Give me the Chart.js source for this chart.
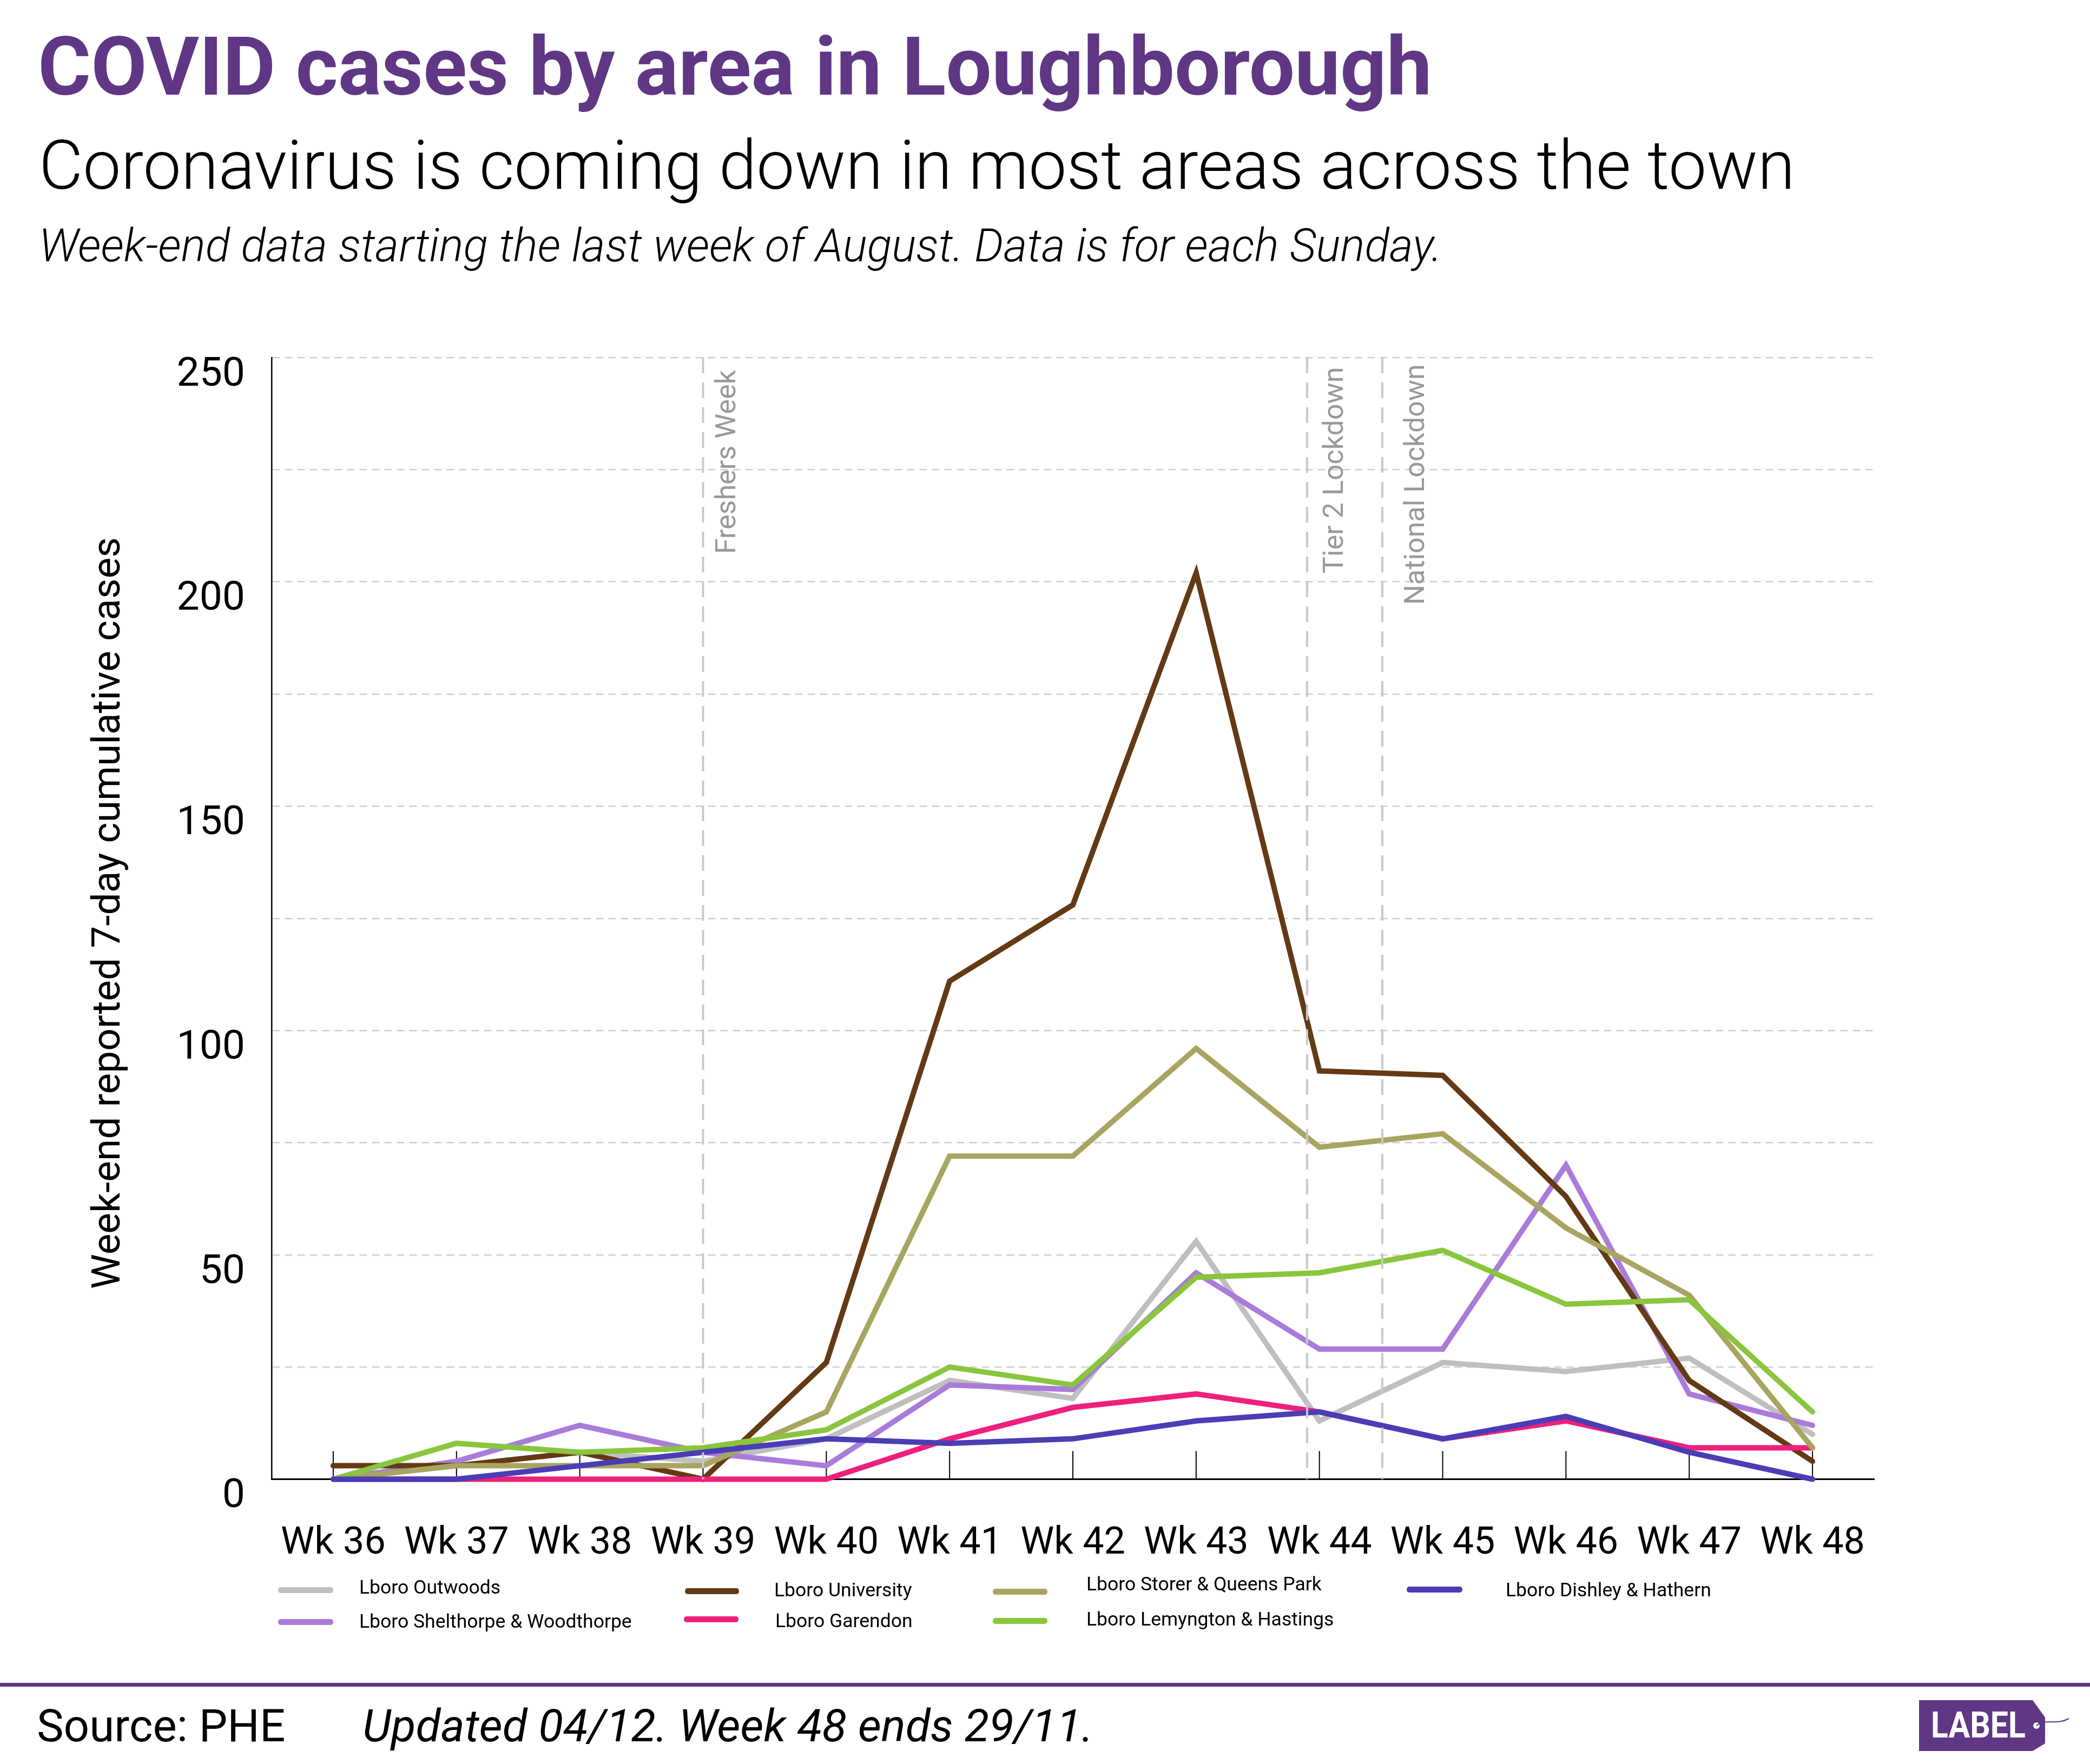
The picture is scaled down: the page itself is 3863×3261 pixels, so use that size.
<!DOCTYPE html>
<html>
<head>
<meta charset="utf-8">
<title>COVID cases by area in Loughborough</title>
<script src="https://cdn.jsdelivr.net/npm/chart.js@4"></script>
<style>
  html, body { margin: 0; padding: 0; background: #fff; }
  body { position: relative; width: 3863px; height: 3261px; overflow: hidden; font-family: Roboto, sans-serif; color: #000; }
  canvas { position: absolute; left: 0; top: 0; }
  .txt { position: absolute; white-space: nowrap; line-height: 1; }
  #title { left: 70px; top: 49px; font-size: 150px; font-weight: 700; color: #5f3785; }
  #subtitle { left: 72px; top: 244px; font-size: 125.3px; font-weight: 300; }
  #note { left: 72px; top: 413px; font-size: 84.4px; font-weight: 300; font-style: italic; }
  #rule { position: absolute; left: 0; top: 3111px; width: 3863px; height: 7px; background: #5f3785; }
  #source { left: 68px; top: 3149px; font-size: 83.5px; }
  #updated { left: 670px; top: 3149px; font-size: 84px; font-style: italic; }
  .swatch { position: absolute; height: 11px; border-radius: 5px; }
  .leg { font-size: 35.5px; }
  #logo { position: absolute; left: 3540px; top: 3135px; }
</style>
</head>
<body>
<div class="txt" id="title">COVID cases by area in Loughborough</div>
<div class="txt" id="subtitle">Coronavirus is coming down in most areas across the town</div>
<div class="txt" id="note">Week-end data starting the last week of August. Data is for each Sunday.</div>
<canvas id="chart" width="3863" height="3261"></canvas>
<div id="legend"></div>
<div id="rule"></div>
<div class="txt" id="source">Source: PHE</div>
<div class="txt" id="updated">Updated 04/12. Week 48 ends 29/11.</div>
<svg id="logo" width="300" height="110" viewBox="3540 3135 300 110">
  <path d="M3547 3143 H3757 L3780 3175 V3223 L3757 3237 H3547 Z" fill="#5f3785"/>
  <circle cx="3764" cy="3190" r="6" fill="#fff"/>
  <path d="M3764 3190 C3785 3176 3800 3190 3824 3177" fill="none" stroke="#5f3785" stroke-width="2"/>
  <text x="3569" y="3212" font-family="Roboto" font-weight="700" font-size="67" fill="#fff" textLength="175" lengthAdjust="spacingAndGlyphs">LABEL</text>
</svg>
<script>
// 주 단위 라벨과 지역별 값
const weeks = ['Wk 36', 'Wk 37', 'Wk 38', 'Wk 39', 'Wk 40', 'Wk 41', 'Wk 42', 'Wk 43', 'Wk 44', 'Wk 45', 'Wk 46', 'Wk 47', 'Wk 48'];
const outwoods   = [0, 3, 6, 4, 9, 22, 18, 53, 13, 26, 24, 27, 10];
const shelthorpe = [0, 4, 12, 6, 3, 21, 20, 46, 29, 29, 70, 19, 12];
const university = [3, 3, 6, 0, 26, 111, 128, 202, 91, 90, 63, 22, 4];
const garendon   = [0, 0, 0, 0, 0, 9, 16, 19, 15, 9, 13, 7, 7];
const storer     = [0, 3, 3, 3, 15, 72, 72, 96, 74, 77, 56, 41, 7];
const lemyngton  = [0, 8, 6, 7, 11, 25, 21, 45, 46, 51, 39, 40, 15];
const dishley    = [0, 0, 3, 6, 9, 8, 9, 13, 15, 9, 14, 6, 0];

// 세로 이벤트 표시 (x는 주 인덱스 기준)
const eventNames = ['Freshers Week', 'Tier 2 Lockdown', 'National Lockdown'];
const eventWeeks = [3, 7.9, 8.51];
const eventTextGap = [60, 66, 77];
const eventTextEnd = [1024, 1060, 1118];

const yAxisTitle = 'Week-end reported 7-day cumulative cases';

const series = [
  { label: 'Lboro Outwoods', data: outwoods, color: '#bfbfbf' },
  { label: 'Lboro Shelthorpe & Woodthorpe', data: shelthorpe, color: '#a97cd9' },
  { label: 'Lboro University', data: university, color: '#633a13' },
  { label: 'Lboro Garendon', data: garendon, color: '#ee207c' },
  { label: 'Lboro Storer & Queens Park', data: storer, color: '#a8a560' },
  { label: 'Lboro Lemyngton & Hastings', data: lemyngton, color: '#8ac53e' },
  { label: 'Lboro Dishley & Hathern', data: dishley, color: '#4a3db5' }
];

// 범례 배치: 원본의 불규칙한 위치 그대로
const legendSpots = [
  { sx: 514, sw: 102, sy: 2939, tx: 664, ty: 2935 },
  { sx: 514, sw: 102, sy: 2998, tx: 664, ty: 2998 },
  { sx: 1266, sw: 100, sy: 2941, tx: 1431, ty: 2940 },
  { sx: 1264, sw: 101, sy: 2993, tx: 1433, ty: 2997 },
  { sx: 1835, sw: 101, sy: 2942, tx: 2008, ty: 2929 },
  { sx: 1835, sw: 101, sy: 2996, tx: 2008, ty: 2994 },
  { sx: 2600, sw: 103, sy: 2938, tx: 2783, ty: 2940 }
];

function renderLegend(container) {
  container.innerHTML = series.map((s, i) => {
    const p = legendSpots[i];
    return `<div class="swatch" style="left:${p.sx}px; top:${p.sy - 5}px; width:${p.sw}px; background:${s.color};"></div>
      <div class="txt leg" style="left:${p.tx}px; top:${p.ty - 18}px;">${s.label.replace('&', '&amp;')}</div>`;
  }).join('');
}
renderLegend(document.getElementById('legend'));

function drawRotated(ctx, text, x, y, font, color) {
  ctx.save();
  ctx.translate(x, y);
  ctx.rotate(-Math.PI / 2);
  ctx.fillStyle = color;
  ctx.font = font;
  ctx.textBaseline = 'alphabetic';
  ctx.fillText(text, 0, 0);
  ctx.restore();
}

// 축 위쪽 눈금과 이벤트 점선 + 세로 글자
const overlayPlugin = {
  id: 'overlay',
  beforeDatasetsDraw(chart) {
    const { ctx, scales: { x, y } } = chart;
    ctx.save();
    ctx.strokeStyle = '#000';
    ctx.lineWidth = 2;
    weeks.forEach((w, i) => {
      const px = x.getPixelForValue(i);
      ctx.beginPath();
      ctx.moveTo(px, y.bottom);
      ctx.lineTo(px, y.bottom - 52);
      ctx.stroke();
    });
    ctx.restore();
    ctx.save();
    ctx.textAlign = 'center';
    drawRotated(ctx, yAxisTitle, 221, 1688, '73px Roboto', '#000');
    ctx.restore();
  },
  afterDatasetsDraw(chart) {
    const { ctx, scales: { x, y } } = chart;
    ctx.save();
    eventWeeks.forEach((w, i) => {
      const px = x.getPixelForValue(w);
      ctx.strokeStyle = '#c9c9c9';
      ctx.lineWidth = 4;
      ctx.setLineDash([29, 17]);
      ctx.beginPath();
      ctx.moveTo(px, y.top);
      ctx.lineTo(px, y.bottom);
      ctx.stroke();
      drawRotated(ctx, eventNames[i], px + eventTextGap[i], eventTextEnd[i], '400 52px Roboto', '#999999');
    });
    ctx.restore();
  }
};

new Chart(document.getElementById('chart'), {
  type: 'line',
  data: {
    labels: weeks,
    datasets: series.map((s, i) => ({
      label: s.label,
      data: s.data,
      borderColor: s.color,
      backgroundColor: s.color,
      borderWidth: 10,
      borderCapStyle: 'round',
      borderJoinStyle: 'miter',
      pointRadius: 0,
      tension: 0,
      clip: false,
      order: series.length - i
    }))
  },
  options: {
    responsive: false,
    animation: false,
    devicePixelRatio: 1,
    layout: { padding: { top: 661, left: 0, right: 399, bottom: 0 } },
    plugins: { legend: { display: false }, title: { display: false }, tooltip: { enabled: false } },
    scales: {
      x: {
        offset: true,
        grid: { display: false, drawTicks: false },
        border: { color: '#000', width: 3 },
        ticks: { color: '#000', font: { family: 'Roboto', size: 70 }, padding: 78, maxRotation: 0, autoSkip: false },
        afterFit(s) { s.height = 3261 - 2734.5; }
      },
      y: {
        min: 0,
        max: 250,
        afterBuildTicks(s) {
          s.ticks = [];
          for (let v = 0; v <= 250; v += 25) s.ticks.push({ value: v });
        },
        grid: { color: '#cfcfcf', lineWidth: 2.5, drawTicks: false },
        border: { color: '#000', width: 2.5, dash: [14, 9] },
        ticks: {
          color: '#000',
          font: { family: 'Roboto', size: 75 },
          padding: 49,
          labelOffset: 33,
          callback: v => (v % 50 === 0 ? v : '')
        },
        afterFit(s) { s.width = 502; }
      }
    }
  },
  plugins: [overlayPlugin]
});
</script>
</body>
</html>
